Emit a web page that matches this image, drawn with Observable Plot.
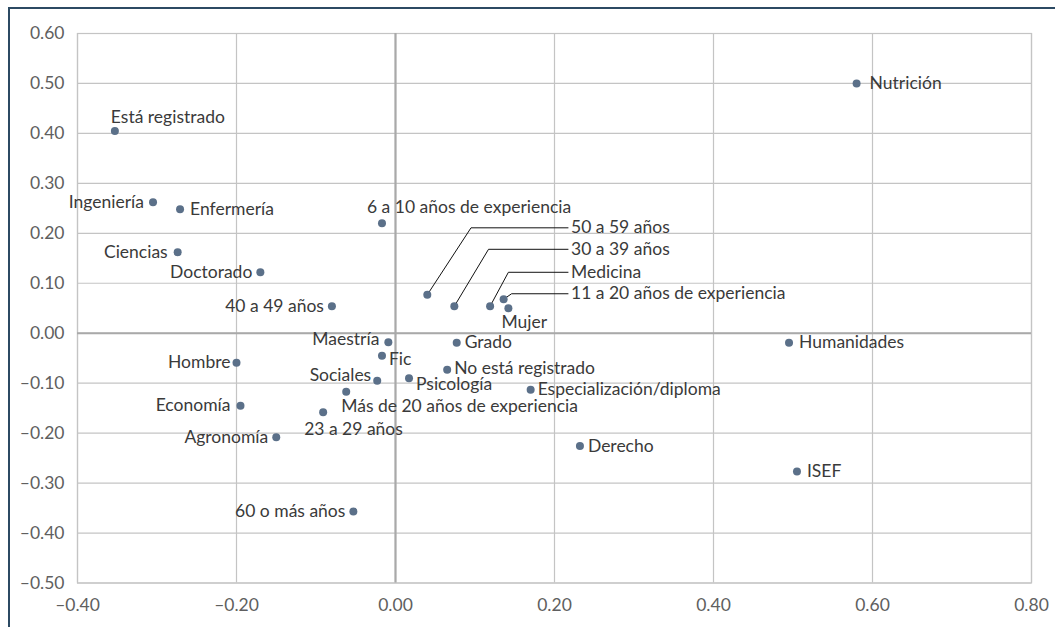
<!DOCTYPE html>
<html><head><meta charset="utf-8">
<script src="https://cdn.jsdelivr.net/npm/d3@7"></script>
<script src="https://cdn.jsdelivr.net/npm/@observablehq/plot@0.6"></script>
<style>
body{margin:0;background:#fff;}
#wrap{position:relative;width:1055px;height:627px;overflow:hidden;}
#chart{position:absolute;left:0;top:0;}
#frame{position:absolute;left:8px;top:7px;width:1100px;height:700px;border-top:2px solid #2c4a63;border-left:2px solid #2c4a63;pointer-events:none;}
</style></head><body><div id="wrap"><div id="chart"></div><div id="frame"></div></div>
<script>
// ---- data ----
const names = ["Está registrado","Ingeniería","Enfermería","Ciencias","Doctorado","40 a 49 años",
  "6 a 10 años de experiencia","50 a 59 años","30 a 39 años","Medicina","11 a 20 años de experiencia","Mujer",
  "Nutrición","Humanidades","ISEF","Maestría","Fic","Grado","Hombre","No está registrado","Sociales","Psicología",
  "Especialización/diploma","Más de 20 años de experiencia","Economía","23 a 29 años","Agronomía","Derecho","60 o más años"];
const dim1 = [-0.353,-0.305,-0.271,-0.274,-0.170,-0.080,
  -0.017,0.040,0.074,0.119,0.136,0.142,
  0.580,0.495,0.505,-0.009,-0.017,0.077,-0.200,0.065,-0.023,0.017,
  0.170,-0.062,-0.195,-0.091,-0.150,0.232,-0.053];
const dim2 = [0.405,0.262,0.248,0.162,0.122,0.054,
  0.220,0.077,0.054,0.054,0.068,0.050,
  0.500,-0.019,-0.277,-0.018,-0.045,-0.019,-0.059,-0.073,-0.095,-0.090,
  -0.113,-0.117,-0.145,-0.158,-0.208,-0.226,-0.357];
const xTicks = [-0.4,-0.2,0,0.2,0.4,0.6,0.8];
const yTicks = [-0.5,-0.4,-0.3,-0.2,-0.1,0,0.1,0.2,0.3,0.4,0.5,0.6];

// callout labels (label anchor and elbow, in data units)
const calloutNames = ["50 a 59 años","30 a 39 años","Medicina","11 a 20 años de experiencia"];
const calloutLabelX = [0.217,0.217,0.217,0.217];
const calloutLabelY = [0.211,0.168,0.122,0.079];
const calloutElbowX = [0.095,0.117,0.142,0.146];

// ---- label placement (anchor, dx, dy in px) ----
const placement = {
  "Está registrado":["start",-4,-14],
  "Ingeniería":["end",-9,0],
  "Enfermería":["start",10,0],
  "Ciencias":["end",-10,0],
  "Doctorado":["end",-8,0],
  "40 a 49 años":["end",-8,0],
  "6 a 10 años de experiencia":["start",-15,-16],
  "Mujer":["start",-7,14],
  "Nutrición":["start",13,0],
  "Humanidades":["start",10,0],
  "ISEF":["start",10,0],
  "Maestría":["end",-9,-3],
  "Fic":["start",7,4],
  "Grado":["start",8,0],
  "Hombre":["end",-6,0],
  "No está registrado":["start",7,-1],
  "Sociales":["end",-6,-5],
  "Psicología":["start",7,6],
  "Especialización/diploma":["start",7,0],
  "Más de 20 años de experiencia":["start",-5,15],
  "Economía":["end",-10,0],
  "23 a 29 años":["start",-19,17],
  "Agronomía":["end",-8,0],
  "Derecho":["start",8,0],
  "60 o más años":["end",-8,0]
};

const pts = names.map((n,i)=>({name:n,x:dim1[i],y:dim2[i]}));
const callouts = calloutNames.map((n,i)=>{
  const p = pts.find(d=>d.name===n);
  return {name:n, px:p.x, py:p.y, lx:calloutLabelX[i], ly:calloutLabelY[i], ex:calloutElbowX[i]};
});
const leaderPts = callouts.flatMap(c=>[
  {g:c.name,x:c.px,y:c.py},{g:c.name,x:c.ex,y:c.ly},{g:c.name,x:c.lx,y:c.ly}]);

const fmt = v => d3.format(".2f")(v).replace("−","–").replace("-","–");
const FONT = "Lato, 'Open Sans', sans-serif";
const LABEL_SIZE = 17.5;
const textMarks = Object.entries(placement).map(([n,[anchor,dx,dy]])=>
  Plot.text(pts.filter(d=>d.name===n),{x:"x",y:"y",text:"name",textAnchor:anchor,dx,dy,
    fill:"#3a3a3a",fontSize:LABEL_SIZE,fontFamily:FONT}));

const chart = Plot.plot({
  width:1055, height:627,
  marginLeft:77, marginTop:33, marginRight:24, marginBottom:44.5,
  style:{fontFamily:FONT, fontSize:"17.5px", color:"#5f5f5f", background:"transparent"},
  x:{domain:[-0.4,0.8], ticks:xTicks, tickFormat:fmt, tickSize:0, tickPadding:16, label:null},
  y:{domain:[-0.5,0.6], ticks:yTicks, tickFormat:fmt, tickSize:0, tickPadding:13, label:null},
  marks:[
    Plot.ruleX(xTicks,{stroke:"#c4c4c4",strokeWidth:1.2}),
    Plot.ruleY(yTicks,{stroke:"#c4c4c4",strokeWidth:1.2}),
    Plot.frame({stroke:"#c4c4c4",strokeWidth:1.2}),
    Plot.ruleX([0],{stroke:"#a9a9a9",strokeWidth:2.2}),
    Plot.ruleY([0],{stroke:"#a9a9a9",strokeWidth:2.2}),
    Plot.line(leaderPts,{x:"x",y:"y",z:"g",stroke:"#111",strokeWidth:1,curve:"linear"}),
    Plot.text(callouts,{x:"lx",y:"ly",text:"name",textAnchor:"start",dx:3,fill:"#3a3a3a",fontSize:LABEL_SIZE,fontFamily:FONT}),
    Plot.dot(pts,{x:"x",y:"y",r:4,fill:"#5b7089",stroke:"none"}),
    ...textMarks
  ]
});
document.getElementById("chart").appendChild(chart);
</script>
</body></html>
